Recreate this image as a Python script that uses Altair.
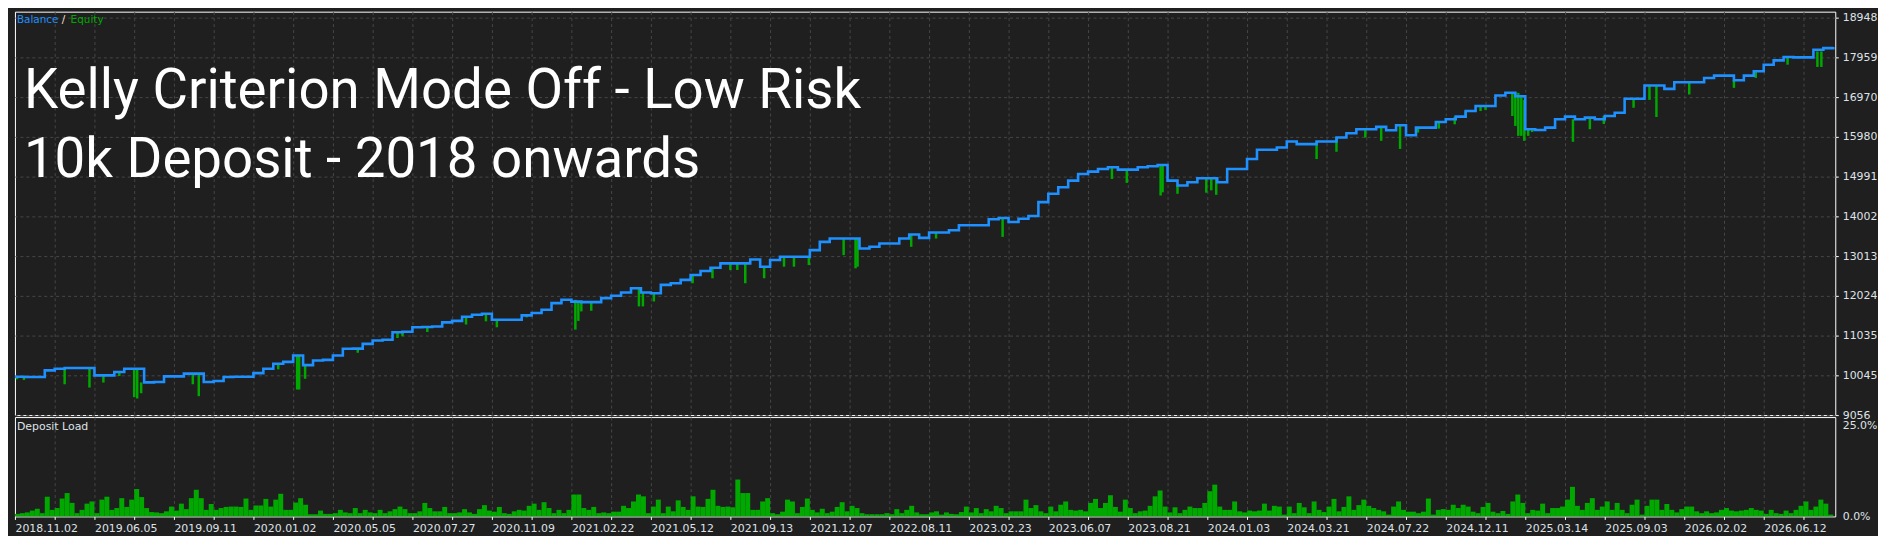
import altair as alt
import pandas as pd

# ---------------- data ----------------
date_labels = ["2018.11.02", "2019.06.05", "2019.09.11", "2020.01.02", "2020.05.05",
               "2020.07.27", "2020.11.09", "2021.02.22", "2021.05.12", "2021.09.13",
               "2021.12.07", "2022.08.11", "2023.02.23", "2023.06.07", "2023.08.21",
               "2024.01.03", "2024.03.21", "2024.07.22", "2024.12.11", "2025.03.14",
               "2025.09.03", "2026.02.02", "2026.06.12"]

y_ticks = [9056, 10045, 11035, 12024, 13013, 14002, 14991, 15980, 16970, 17959, 18948]

# balance, one reading every 2 load bins
balance = [
    10010, 10003, 10003, 10169, 10211, 10226, 10226, 10226, 10045, 10045,
    10127, 10211, 10211, 9870, 9880, 10020, 10020, 10087, 10087, 9880,
    9904, 10003, 10010, 10010, 10100, 10211, 10334, 10380, 10540, 10300,
    10416, 10430, 10540, 10705, 10710, 10829, 10911, 10930, 11116, 11130,
    11240, 11250, 11260, 11363, 11400, 11504, 11554, 11579, 11430, 11430,
    11430, 11537, 11595, 11678, 11842, 11925, 11880, 11867, 11867, 11966,
    12024, 12106, 12213, 12106, 12090, 12296, 12337, 12420, 12543, 12642,
    12724, 12832, 12832, 12832, 12930, 12749, 12914, 12997, 12997, 12997,
    13161, 13367, 13450, 13450, 13450, 13203, 13244, 13326, 13326, 13450,
    13549, 13466, 13598, 13598, 13656, 13780, 13780, 13780, 13928, 13961,
    13862, 13944, 14010, 14356, 14563, 14728, 14892, 15057, 15115, 15181,
    15222, 15164, 15164, 15222, 15247, 15280, 14892, 14769, 14851, 14950,
    14950, 14851, 15181, 15181, 15428, 15659, 15659, 15717, 15865, 15799,
    15799, 15865, 15865, 15964, 16071, 16170, 16170, 16228, 16145, 16269,
    16021, 16211, 16211, 16351, 16417, 16483, 16623, 16747, 16747, 17011,
    17077, 16990, 16170, 16153, 16211, 16417, 16483, 16417, 16458, 16417,
    16499, 16582, 16928, 16928, 17258, 17258, 17175, 17340, 17340, 17340,
    17447, 17505, 17505, 17390, 17505, 17612, 17777, 17884, 17966, 17958,
    17958, 18148, 18189, 18214,
]

# equity drawdown spikes: position (load-bin units), low and top value
dip_pos = [0.4, 1.8, 10.0, 15.0, 17.8, 21.0, 24.0, 24.6, 25.4, 35.8, 37.0, 53.0, 56.8, 57.2,
           58.4, 69.0, 77.0, 78.0, 83.0, 90.8, 94.8, 97.0, 103.0, 112.8, 113.4, 114.0, 116.0,
           125.6, 126.4, 128.6, 136.4, 140.4, 144.0, 145.4, 147.0, 150.8, 154.8, 156.8, 159.8,
           166.8, 169.2, 169.6, 180.4, 185.4, 198.8, 220.8, 223.8, 230.6, 231.0, 234.0, 239.8,
           240.8, 241.8, 262.0, 266.0, 271.8, 275.0, 278.8, 282.4, 286.6, 289.8, 292.0, 295.0,
           296.0, 301.4, 302.0, 302.6, 303.2, 303.8, 304.6, 305.4, 313.6, 317.0, 319.8, 325.8,
           329.0, 330.4, 337.0, 346.0, 350.4, 356.8, 362.8, 363.6]
dip_low = [9946, 9930, 9823, 9741, 9865, 10028, 9501, 9469, 9600, 9823, 9526, 10194, 9692, 9692,
           9960, 10607, 10975, 11016, 11123, 11310, 11389, 11241, 11488, 11183, 11400, 11636, 11652,
           11760, 11760, 11884, 12337, 12461, 12667, 12667, 12337, 12461, 12749, 12749, 12790,
           13037, 12708, 12750, 13244, 13450, 13491, 14933, 14835, 14521, 14600, 14563, 14590,
           14650, 14538, 15428, 15610, 15964, 15882, 15680, 16087, 16186, 16293, 16458, 16623,
           16650, 16500, 16252, 16005, 16005, 15881, 16005, 16100, 15857, 16170, 16300, 16705,
           16900, 16475, 17035, 17200, 17447, 17777, 17720, 17720]
dip_top = [10010, 10003, 10226, 10226, 10045, 10127, 10211, 10211, 9870, 10087, 10087, 10334, 10540, 10540,
           10300, 10710, 11116, 11130, 11250, 11504, 11579, 11430, 11537, 11925, 11880, 11867, 11867,
           12213, 12106, 12090, 12543, 12724, 12832, 12832, 12832, 12749, 12997, 12997, 12997,
           13450, 13450, 13450, 13549, 13598, 13961, 15222, 15164, 15280, 15280, 14769, 14950,
           14950, 14950, 15865, 15964, 16170, 16228, 16269, 16211, 16351, 16483, 16623, 16747,
           16747, 17077, 17077, 17077, 17000, 16900, 16170, 16153, 16417, 16458, 16499, 16928,
           17258, 17258, 17340, 17390, 17612, 17966, 18106, 18106]

# deposit load (%), one value per bin
load_2018_2020 = [
    0.7, 0.9, 1.1, 1.6, 2.1, 0.9, 5.4, 1.8, 2.3, 4.9,
    6.4, 3.7, 0.9, 1.8, 3.5, 4.1, 0.9, 4.6, 5.4, 1.8,
    2.3, 5.0, 2.6, 4.6, 7.5, 5.3, 2.3, 1.2, 1.1, 0.9,
    1.4, 2.7, 1.6, 3.5, 2.0, 5.0, 7.3, 5.0, 1.8, 3.4,
    1.8, 2.3, 2.6, 2.7, 2.7, 2.6, 4.9, 1.8, 3.0, 3.0,
    4.8, 2.7, 4.6, 6.2, 1.8, 1.8, 3.8, 5.0, 3.2, 0.6,
    0.6, 1.6, 0.7, 0.7, 0.9, 1.8, 1.1, 0.9, 2.3, 0.9,
    1.8, 1.1, 0.9, 1.8, 0.9, 1.4, 2.0, 2.7, 2.0, 0.9,
    0.9, 1.4, 3.7, 2.3, 1.4, 1.4, 2.6, 0.9, 0.9, 1.1,
    2.0, 1.1, 0.7, 2.0, 3.1, 1.6, 1.3, 2.6,
]
load_2020_2023 = [
    0.9, 0.7, 1.4, 1.8, 1.6, 2.9, 3.5, 1.8, 3.9, 2.3,
    0.9, 1.8, 0.9, 1.8, 6.0, 6.0, 2.3, 1.8, 2.6, 0.9,
    1.1, 0.9, 1.3, 1.3, 2.9, 2.3, 4.1, 6.0, 5.5, 0.9,
    2.7, 4.6, 0.9, 2.7, 1.4, 4.4, 2.6, 1.8, 5.5, 2.7,
    2.6, 4.8, 7.3, 2.9, 2.6, 2.7, 2.5, 10.1, 6.4, 6.4,
    1.8, 1.8, 4.1, 5.0, 0.9, 0.6, 1.3, 4.6, 4.1, 0.9,
    2.6, 4.9, 1.8, 1.1, 2.1, 0.9, 1.3, 2.6, 3.9, 1.4,
    2.9, 2.3, 0.9, 0.6, 0.6, 0.6, 0.6, 0.9, 0.6, 2.0,
    0.9, 1.8, 2.9, 1.1, 0.6, 0.6, 1.1, 1.4, 0.5, 1.1,
    0.7, 0.6, 1.2, 2.7, 1.1, 2.3, 0.9, 2.0, 1.4, 2.9,
    2.3, 0.9, 1.4, 1.4, 1.4, 4.6, 2.3, 3.1, 1.4, 0.9,
    2.7, 1.4, 3.2, 4.1, 1.8, 1.6, 1.8, 1.4, 3.7, 4.8,
    2.3, 3.7, 5.8, 2.6, 1.3, 4.6, 2.3, 0.9, 1.4, 1.6,
    2.9, 5.5, 7.1, 2.7, 1.1, 2.5, 0.9, 1.8, 2.7, 2.3,
]
load_2023_2026 = [
    2.3, 3.7, 6.9, 8.7, 2.7, 1.8, 1.8, 4.1, 1.4, 1.1,
    1.6, 1.4, 1.6, 3.5, 1.6, 2.9, 2.7, 0.5, 2.7, 0.9,
    3.7, 2.5, 0.9, 4.1, 1.8, 1.2, 2.7, 4.8, 1.4, 2.6,
    5.5, 1.8, 3.1, 4.6, 2.9, 2.3, 1.8, 1.4, 0.5, 2.7,
    4.1, 1.8, 1.3, 1.3, 0.9, 1.3, 4.9, 0.5, 1.8, 2.0,
    1.8, 3.2, 2.3, 3.2, 2.7, 1.3, 0.9, 2.6, 3.7, 1.3,
    0.9, 1.5, 0.7, 4.1, 6.0, 3.7, 0.9, 1.8, 1.6, 3.5,
    0.9, 2.3, 2.3, 2.7, 4.6, 8.1, 2.9, 1.8, 3.7, 5.0,
    1.8, 2.7, 4.1, 1.8, 3.7, 1.8, 0.9, 3.2, 4.6, 0.5,
    2.9, 4.6, 4.6, 1.8, 3.4, 1.8, 1.1, 2.0, 2.7, 2.7,
    1.4, 0.9, 1.4, 0.9, 1.1, 1.8, 2.3, 1.6, 1.4, 1.6,
    1.8, 2.3, 1.8, 1.6, 0.7, 1.8, 0.9, 0.7, 1.6, 0.9,
    1.8, 2.9, 4.1, 1.8, 2.7, 4.6, 3.5, 0.5,
]

# ---------------- styling ----------------
BG = "#1f1f1f"
GRID = "#474747"
BLUE = "#1e90ff"
GREEN = "#00a800"
LABEL = "#dfe3e8"
FONT = "DejaVu Sans"

load = load_2018_2020 + load_2020_2023 + load_2023_2026
load_df = pd.DataFrame({"start": list(range(len(load))),
                        "end": [i + 1 for i in range(len(load))],
                        "pct": load})
bal_df = pd.DataFrame({"pos": [2 * j for j in range(len(balance))], "value": balance})
dip_df = pd.DataFrame({"pos": dip_pos, "low": dip_low, "top": dip_top})

W = 1832
XMAX = 366.4
x_scale = alt.Scale(domain=[0, XMAX], nice=False, zero=False)
grid_vals = list(range(0, 367, 8))
js_dates = "[" + ",".join("'" + d + "'" for d in date_labels) + "]"
x_label_expr = "datum.value % 16 == 0 ? " + js_dates + "[datum.value / 16] : ''"
x_grid_color = {"condition": {"test": "datum.value === 0", "value": "transparent"}, "value": GRID}

y_scale = alt.Scale(domain=[9056, 19096], nice=False, zero=False)

x_axis_main = alt.Axis(values=grid_vals, labels=False, ticks=False, domain=False,
                       grid=True, gridDash=[3, 3], gridColor=x_grid_color, gridWidth=1, title=None)
y_axis_main = alt.Axis(orient="right", values=y_ticks, format="d", grid=True,
                       gridDash=[3, 3], gridColor=GRID, gridWidth=1, domain=False,
                       tickSize=3, tickColor="#ffffff", labelColor=LABEL, labelFont=FONT,
                       labelFontSize=11, labelPadding=4, title=None)

dips = alt.Chart(dip_df).mark_rule(color=GREEN, strokeWidth=2.5).encode(
    x=alt.X("pos:Q", scale=x_scale, axis=x_axis_main),
    y=alt.Y("low:Q", scale=y_scale, axis=y_axis_main),
    y2="top:Q",
)
bal_line = alt.Chart(bal_df).mark_line(interpolate="step-after", color=BLUE, strokeWidth=2.6).encode(
    x=alt.X("pos:Q", scale=x_scale, axis=x_axis_main),
    y=alt.Y("value:Q", scale=y_scale, axis=y_axis_main),
)
one = pd.DataFrame({"k": [0]})
title_txt = alt.Chart(one).mark_text(
    text="Kelly Criterion Mode Off - Low Risk\n10k Deposit - 2018 onwards",
    lineBreak="\n", lineHeight=69, align="left", baseline="alphabetic",
    font="Roboto", fontSize=55, color="#ffffff",
).encode(x=alt.value(9), y=alt.value(97))
leg_bal = alt.Chart(one).mark_text(text="Balance", align="left", baseline="middle", font=FONT,
                                   fontSize=10.5, color=BLUE).encode(x=alt.value(2), y=alt.value(8))
leg_sl = alt.Chart(one).mark_text(text="/", align="left", baseline="middle", font=FONT,
                                  fontSize=10.5, color="#f0dcc8").encode(x=alt.value(47), y=alt.value(8))
leg_eq = alt.Chart(one).mark_text(text="Equity", align="left", baseline="middle", font=FONT,
                                  fontSize=10.5, color=GREEN).encode(x=alt.value(56), y=alt.value(8))

main = alt.layer(dips, bal_line, title_txt, leg_bal, leg_sl, leg_eq).properties(width=W, height=406)

x_axis_low = alt.Axis(values=grid_vals, labelExpr=x_label_expr, labelAlign="left",
                      labelOverlap=False, labelFlush=False, labelColor=LABEL, labelFont=FONT,
                      labelFontSize=11, labelPadding=3, tickSize=3, tickColor="#ffffff",
                      domain=False, grid=True, gridDash=[3, 3], gridColor=x_grid_color,
                      gridWidth=1, title=None)
y_axis_low = alt.Axis(orient="right", values=[0, 25],
                      labelExpr="format(datum.value, '.1f') + '%'", grid=False, domain=False,
                      tickSize=0, labelColor=LABEL, labelFont=FONT, labelFontSize=11,
                      labelPadding=7, title=None)

bars = alt.Chart(load_df).mark_rect(color=GREEN).encode(
    x=alt.X("start:Q", scale=x_scale, axis=x_axis_low),
    x2="end:Q",
    y=alt.Y("pct:Q", scale=alt.Scale(domain=[0, 27.2], nice=False, zero=True), axis=y_axis_low),
    y2=alt.datum(0),
)
dl_txt = alt.Chart(one).mark_text(text="Deposit Load", align="left", baseline="middle", font=FONT,
                                  fontSize=11, color=LABEL).encode(x=alt.value(2), y=alt.value(10))

lower = alt.layer(bars, dl_txt).properties(width=W, height=100)

chart = alt.vconcat(main, lower, spacing=2, bounds="flush").configure(
    background=BG, padding={"left": 1, "top": 1, "right": 0, "bottom": 0}, font=FONT
).configure_view(stroke="#ffffff", strokeWidth=1)

chart.save("out.html", embed_options={"renderer": "svg", "actions": False})
